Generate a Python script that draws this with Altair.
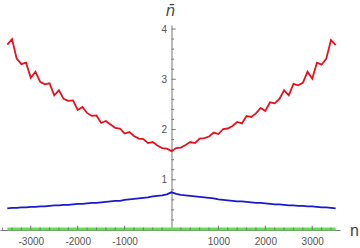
import altair as alt
import pandas as pd
import numpy as np

n_vals = list(range(-3500, 3501, 100))

red = [3.69, 3.80, 3.41, 3.30, 3.33, 3.03, 3.15, 2.95, 2.90, 2.92,
       2.68, 2.78, 2.61, 2.57, 2.58, 2.39, 2.45, 2.33, 2.27, 2.28,
       2.13, 2.17, 2.10, 2.03, 2.02, 1.92, 1.95, 1.87, 1.82, 1.81,
       1.73, 1.75, 1.68, 1.63, 1.62,
       1.57,
       1.63, 1.64, 1.69, 1.75, 1.73, 1.82, 1.83, 1.86, 1.94, 1.91,
       2.01, 2.02, 2.07, 2.15, 2.12, 2.27, 2.25, 2.32, 2.43, 2.37,
       2.54, 2.52, 2.61, 2.78, 2.68, 2.91, 2.88, 2.93, 3.15, 3.01,
       3.33, 3.29, 3.41, 3.78, 3.68]

blue = [0.43, 0.44, 0.44, 0.45, 0.45, 0.46, 0.46, 0.47, 0.47, 0.48,
        0.49, 0.49, 0.50, 0.50, 0.51, 0.52, 0.52, 0.53, 0.54, 0.54,
        0.55, 0.56, 0.57, 0.58, 0.58, 0.60, 0.61, 0.62, 0.63, 0.64,
        0.65, 0.67, 0.68, 0.69, 0.71,
        0.75,
        0.72, 0.70, 0.69, 0.68, 0.67, 0.66, 0.65, 0.64, 0.63, 0.61,
        0.60, 0.59, 0.58, 0.57, 0.57, 0.56, 0.55, 0.54, 0.54, 0.53,
        0.52, 0.51, 0.51, 0.50, 0.49, 0.49, 0.48, 0.48, 0.47, 0.47,
        0.46, 0.45, 0.45, 0.44, 0.43]

green = [0.02, 0.02, 0.02, 0.02, 0.02, 0.02, 0.02, 0.02, 0.02, 0.02,
         0.02, 0.02, 0.02, 0.02, 0.02, 0.02, 0.02, 0.02, 0.02, 0.02,
         0.02, 0.02, 0.02, 0.02, 0.02, 0.02, 0.02, 0.02, 0.02, 0.02,
         0.02, 0.02, 0.02, 0.02, 0.02,
         0.02,
         0.02, 0.02, 0.02, 0.02, 0.02, 0.02, 0.02, 0.02, 0.02, 0.02,
         0.02, 0.02, 0.02, 0.02, 0.02, 0.02, 0.02, 0.02, 0.02, 0.02,
         0.02, 0.02, 0.02, 0.02, 0.02, 0.02, 0.02, 0.02, 0.02, 0.02,
         0.02, 0.02, 0.02, 0.02, 0.02]

x_tick_labels = [-3000, -2000, -1000, 1000, 2000, 3000]
y_tick_labels = [1, 2, 3, 4]

XDOM = [-3656, 3592]
YDOM = [0, 4.08]
W, H = 340, 205
zero_px = W * (0 - XDOM[0]) / (XDOM[1] - XDOM[0])

df = pd.DataFrame({"n": n_vals, "red": red, "blue": blue, "green": green})

xs = alt.Scale(domain=XDOM, nice=False, zero=False)
ys = alt.Scale(domain=YDOM, nice=False, zero=False)

AX_COL = "#777777"
LAB_COL = "#555555"

x_axis = alt.Axis(
    values=x_tick_labels, ticks=False, domain=True, domainColor=AX_COL,
    domainWidth=1, grid=False, labelColor=LAB_COL, labelFontSize=10,
    labelFont="Liberation Sans", labelPadding=6,
    labelExpr="'' + datum.value",
    title="n", titleX=354, titleY=5, titleAlign="center",
    titleBaseline="alphabetic", titleFontSize=16, titleFontWeight="normal",
    titleColor="#444444", titleFont="Liberation Sans")

y_axis = alt.Axis(
    values=y_tick_labels, ticks=False, domain=True, domainColor=AX_COL,
    domainWidth=1, grid=False, labelColor=LAB_COL, labelFontSize=10,
    labelFont="Liberation Sans", labelPadding=5, offset=-zero_px,
    labelExpr="'' + datum.value",
    title="n\u0304", titleAngle=0, titleX=-1.5, titleY=-10,
    titleAlign="center", titleBaseline="alphabetic", titleFontSize=15,
    titleFontWeight="normal", titleFontStyle="italic",
    titleColor="#444444", titleFont="DejaVu Sans")

base = alt.Chart(df)

green_line = base.mark_line(color="#66dd55", strokeWidth=3).encode(
    x=alt.X("n:Q", scale=xs, axis=x_axis, title="n"),
    y=alt.Y("green:Q", scale=ys, axis=y_axis, title="n\u0304"),
)

blue_line = base.mark_line(color="#1a1acc", strokeWidth=1.8).encode(
    x=alt.X("n:Q", scale=xs),
    y=alt.Y("blue:Q", scale=ys),
)

red_line = base.mark_line(color="#e8101c", strokeWidth=1.8).encode(
    x=alt.X("n:Q", scale=xs),
    y=alt.Y("red:Q", scale=ys),
)

xt_major = pd.DataFrame({"t": [v for v in range(-3000, 3001, 1000) if v != 0]})
xt_minor = pd.DataFrame({"t": [v for v in range(-3600, 3591, 200) if v % 1000 != 0]})
yt_major = pd.DataFrame({"t": [1.0, 2.0, 3.0, 4.0]})
yt_minor = pd.DataFrame({"t": [round(v, 1) for v in np.arange(0.2, 4.05, 0.2) if abs(v - round(v)) > 1e-6]})

def xticks(d, ln):
    return alt.Chart(d).mark_rule(color=AX_COL, strokeWidth=1).encode(
        x=alt.X("t:Q", scale=xs),
        y=alt.datum(0),
        y2=alt.datum(ln),
    )

def yticks(d, ln):
    return alt.Chart(d).mark_rule(color=AX_COL, strokeWidth=1).encode(
        y=alt.Y("t:Q", scale=ys),
        x=alt.datum(0),
        x2=alt.datum(ln),
    )

chart = alt.layer(
    green_line, blue_line, red_line,
    xticks(xt_major, 0.085), xticks(xt_minor, 0.05),
    yticks(yt_major, 90), yticks(yt_minor, 55),
).properties(
    width=W, height=H,
    padding={"left": 0, "top": 25, "right": 20, "bottom": 18},
    autosize=alt.AutoSizeParams(type="none"),
).configure_view(stroke=None)

chart.save("out.html", embed_options={"renderer": "svg", "actions": False})
